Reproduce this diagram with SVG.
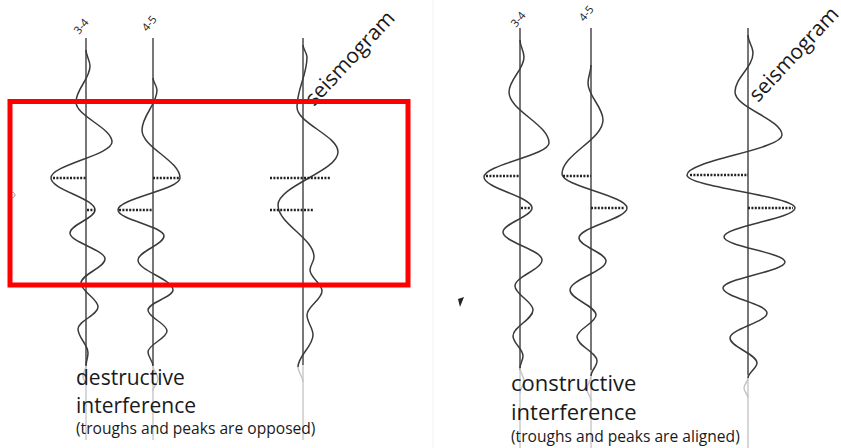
<svg xmlns="http://www.w3.org/2000/svg" width="841" height="448" viewBox="0 0 841 448">
<style>
.axis{stroke:#555;stroke-width:1.6;fill:none}
.axisf{stroke:#cfcfcf;stroke-width:1.6;fill:none}
.wave{stroke:#3a3a3a;stroke-width:1.5;fill:none}
.wavef{stroke:#c4c4c4;stroke-width:1.5;fill:none}
.dots{stroke:#222;stroke-width:2.6;stroke-dasharray:2 1.4;fill:none}
.lbl{font-family:"Open Sans","Liberation Sans",sans-serif;font-size:11px;fill:#222}
.seis{font-family:"Open Sans","Liberation Sans",sans-serif;font-size:21px;fill:#1a1a1a}
.big{font-family:"Open Sans","Liberation Sans",sans-serif;fill:#1a1a1a}
.small{font-family:"Open Sans","Liberation Sans",sans-serif;font-size:15.6px;fill:#1a1a1a}
</style>
<rect width="841" height="448" fill="#fff"/>
<line x1="433" y1="0" x2="433" y2="448" stroke="#f2f2f2" stroke-width="1"/>
<path d="M10,192 q5,0 5,3 q0,3 -5,3" stroke="#999" stroke-width="1" fill="none"/>
<polygon points="458,299 464,297 460,307" fill="#222"/>

<g id="left-panel">
  <g id="L1">
    <line class="axis" x1="86" y1="38" x2="86" y2="365"/>
    <line class="axisf" x1="86" y1="365" x2="86" y2="440"/>
    <path class="wave" d="M86,50 C86,55.8 90,60.2 90,66 C90,79.1 76,88.9 76,102 C76,116.5 112,127.5 112,142 C112,155.1 51,164.9 51,178 C51,189.6 95,198.4 95,210 C95,218.3 70,224.7 70,233 C70,242.4 105,249.6 105,259 C105,267.7 81,274.3 81,283 C81,291.7 98,298.3 98,307 C98,315 78,321 78,329 C78,337.7 88,344.3 88,353 C88,357.7 86,361.3 86,366"/>
    <path class="wavef" d="M86,366 C86,370 83,372 83,376 C83,380 86,382 86,386"/>
    <path class="dots" d="M53,178 H86 M87,210 H95"/>
    <text class="lbl" transform="translate(79,35) rotate(-50)">3-4</text>
  </g>
  <g id="L2">
    <line class="axis" x1="153" y1="38" x2="153" y2="365"/>
    <line class="axisf" x1="153" y1="365" x2="153" y2="440"/>
    <path class="wave" d="M153,78 C153,82.4 157,85.6 157,90 C157,104.5 142,115.5 142,130 C142,147.4 180,160.6 180,178 C180,189.6 118,198.4 118,210 C118,219.4 164,226.6 164,236 C164,244.7 138,251.3 138,260 C138,270.9 173,279.1 173,290 C173,297.3 148,302.7 148,310 C148,317.6 167,323.4 167,331 C167,338.6 148,344.4 148,352 C148,357.1 153,360.9 153,366"/>
    <path class="wavef" d="M153,366 C153,371 158,374 158,379 C158,384 153,386 153,391"/>
    <path class="dots" d="M153,178 H179 M119,210 H153"/>
    <text class="lbl" transform="translate(147,32) rotate(-50)">4-5</text>
  </g>
  <g id="LS">
    <line class="axis" x1="303" y1="38" x2="303" y2="365"/>
    <line class="axisf" x1="303" y1="365" x2="303" y2="440"/>
    <path class="wave" d="M303,45 C303,49.4 307,52.6 307,57 C307,75.2 297,88.8 297,107 C297,123.3 338,135.7 338,152 C338,171.2 278,185.8 278,205 C278,223.9 314,238.1 314,257 C314,261.7 310,265.3 310,270 C310,277.6 322,283.4 322,291 C322,299.7 307,306.3 307,315 C307,322.3 313,327.7 313,335 C313,346.6 298,355.4 298,367"/>
    <path class="wavef" d="M298,367 C298,372.4 303,376.6 303,382"/>
    <path class="dots" d="M270,178 H330 M270,210 H314"/>
    <text class="seis" transform="translate(314,107) rotate(-47)">seismogram</text>
  </g>
  <g id="L-text">
    <text class="big" x="76" y="385" font-size="21">destructive</text>
    <text class="big" x="76" y="413" font-size="21">interference</text>
    <text class="small" x="76" y="434">(troughs and peaks are opposed)</text>
  </g>
  <rect id="highlight" x="10" y="101.5" width="398" height="183.5" fill="none" stroke="#ff0000" stroke-width="5"/>
</g>

<g id="right-panel">
  <g id="R1">
    <line class="axis" x1="520" y1="28" x2="520" y2="370"/>
    <line class="axisf" x1="520" y1="370" x2="520" y2="448"/>
    <path class="wave" d="M520,40 C520,46.2 524,50.8 524,57 C524,69.7 509,79.3 509,92 C509,110.5 549,124.5 549,143 C549,155.3 484,164.7 484,177 C484,188.3 532,196.7 532,208 C532,216.7 503,223.3 503,232 C503,242.2 542,249.8 542,260 C542,269.4 515,276.6 515,286 C515,294.7 533,301.3 533,310 C533,319.4 513,326.6 513,336 C513,343.3 523,348.7 523,356 C523,360.4 520,363.6 520,368"/>
    <path class="wavef" d="M520,368 C520,373 524,376 524,381 C524,386 520,388 520,393"/>
    <path class="dots" d="M486,176 H520 M521,208 H530"/>
    <text class="lbl" transform="translate(516,28) rotate(-50)">3-4</text>
  </g>
  <g id="R2">
    <line class="axis" x1="591" y1="28" x2="591" y2="370"/>
    <line class="axisf" x1="591" y1="370" x2="591" y2="448"/>
    <path class="wave" d="M591,65 C591,71.5 588,76.5 588,83 C588,96.4 603,106.6 603,120 C603,139.6 562,154.4 562,174 C562,186.3 627,195.7 627,208 C627,218.9 579,227.1 579,238 C579,246.3 606,252.7 606,261 C606,271.5 570,279.5 570,290 C570,299.1 596,305.9 596,315 C596,323 577,329 577,337 C577,345.7 597,352.3 597,361 C597,366.4 591,370.6 591,376"/>
    <path class="wavef" d="M591,376 C591,381 587,384 587,389 C587,394 591,396 591,401"/>
    <path class="dots" d="M563,176 H591 M591,208 H625"/>
    <text class="lbl" transform="translate(584,22) rotate(-50)">4-5</text>
  </g>
  <g id="RS">
    <line class="axis" x1="748" y1="28" x2="748" y2="375"/>
    <line class="axisf" x1="748" y1="375" x2="748" y2="448"/>
    <path class="wave" d="M748,35 C748,41.5 753,46.5 753,53 C753,67.2 735,77.8 735,92 C735,107.6 782,119.4 782,135 C782,149.5 687,160.5 687,175 C687,187 795,196 795,208 C795,218.5 724,226.5 724,237 C724,246.1 785,252.9 785,262 C785,271.4 723,278.6 723,288 C723,297.1 767,303.9 767,313 C767,322.1 730,328.9 730,338 C730,347.1 757,353.9 757,363 C757,368.4 748,372.6 748,378"/>
    <path class="wavef" d="M748,378 C748,382 744,384 744,388 C744,392 748,394 748,398"/>
    <path class="dots" d="M690,175 H748 M748,208 H793"/>
    <text class="seis" transform="translate(758,103) rotate(-47)">seismogram</text>
  </g>
  <g id="R-text">
    <text class="big" x="511" y="391" font-size="22">constructive</text>
    <text class="big" x="511" y="420" font-size="22">interference</text>
    <text class="small" x="511" y="442">(troughs and peaks are aligned)</text>
  </g>
</g>
</svg>
